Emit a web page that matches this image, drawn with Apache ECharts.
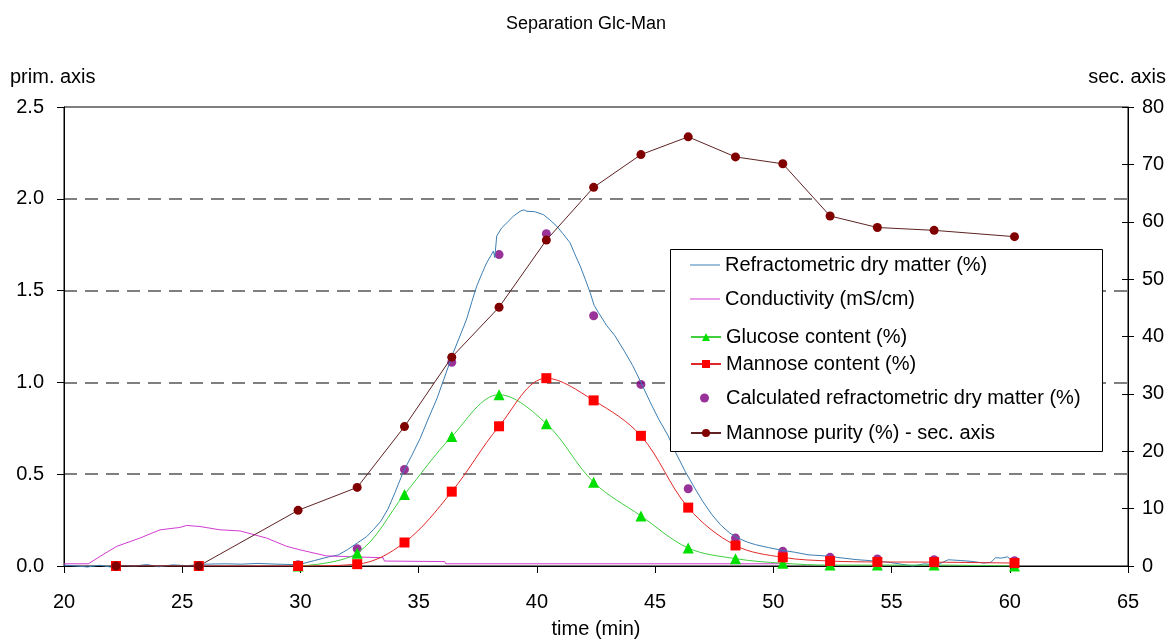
<!DOCTYPE html>
<html>
<head>
<meta charset="utf-8">
<script src="https://cdn.jsdelivr.net/npm/echarts@6/dist/echarts.min.js"></script>
<style>
  html, body { margin: 0; padding: 0; background: #fff; }
  #main { width: 1172px; height: 644px; }
</style>
</head>
<body>
<div id="main"></div>
<script>
// sampling times (min) of the lab analyses
const sampleTimes = [22.2, 25.7, 29.9, 32.4, 34.4, 36.4, 38.4, 40.4, 42.4, 44.4, 46.4, 48.4, 50.4, 52.4, 54.4, 56.8, 60.2];
const glucose     = [null, null, 0, 0.07, 0.39, 0.705, 0.933, 0.775, 0.456, 0.273, 0.098, 0.04, 0.015, 0.005, 0.005, 0.005, 0];
const mannose     = [0, 0, 0, 0.01, 0.128, 0.405, 0.761, 1.023, 0.902, 0.709, 0.318, 0.112, 0.047, 0.027, 0.022, 0.021, 0.016];
const calcRdm     = [null, null, 0.007, 0.094, 0.526, 1.11, 1.696, 1.81, 1.363, 0.989, 0.421, 0.152, 0.08, 0.047, 0.038, 0.034, 0.029];
const purity      = [0, 0, 9.7, 13.7, 24.3, 36.4, 45.1, 56.8, 66.0, 71.7, 74.8, 71.3, 70.1, 61.0, 59.0, 58.5, 57.4];

// online refractometer trace
const rdmTime = [20, 21, 21.5, 22, 22.5, 23, 23.5, 24, 24.6, 25.2, 26, 26.8, 27.5, 28.2, 29, 29.6, 30, 30.6, 31.2, 31.6,
  32.0, 32.4, 32.8, 33.1, 33.4, 33.7, 34.0, 34.35, 34.7, 35.06, 35.4, 35.77, 36.1, 36.47, 36.8, 37.03, 37.25, 37.46, 37.7, 37.88,
  38.05, 38.16, 38.22, 38.3, 38.5, 38.73, 39.0, 39.29, 39.45, 39.57, 39.9, 40.27, 40.55, 40.84, 41.1, 41.4, 41.6, 41.83, 42.05, 42.25,
  42.42, 42.6, 42.95, 43.3, 43.7, 44.05, 44.4, 44.79, 45.15, 45.54, 45.9, 46.28, 46.65, 47.02, 47.4, 47.77, 48.15, 48.51, 48.9, 49.25,
  49.8, 50.4, 50.9, 51.47, 52.2, 52.95, 53.5, 54.0, 54.43, 54.9, 55.4, 55.9, 56.4, 56.9, 57.4, 57.9, 58.4, 58.9, 59.2, 59.4,
  59.65, 59.9, 60.1, 60.38];
const rdmValues = [0.005, -0.005, 0.004, -0.006, 0.003, 0.0, 0.008, -0.004, 0.006, 0.002, 0.01, 0.012, 0.01, 0.014, 0.01, 0.008, 0.01, 0.03, 0.05, 0.06,
  0.09, 0.125, 0.16, 0.2, 0.244, 0.31, 0.4, 0.513, 0.6, 0.694, 0.8, 0.911, 1.03, 1.164, 1.27, 1.345, 1.44, 1.526, 1.6, 1.652,
  1.69, 1.715, 1.68, 1.797, 1.84, 1.869, 1.905, 1.932, 1.94, 1.932, 1.93, 1.914, 1.885, 1.851, 1.81, 1.761, 1.7, 1.634, 1.56, 1.49,
  1.42, 1.381, 1.31, 1.254, 1.17, 1.092, 1.0, 0.893, 0.8, 0.712, 0.61, 0.513, 0.43, 0.351, 0.28, 0.224, 0.18, 0.152, 0.13, 0.116,
  0.1, 0.085, 0.075, 0.061, 0.055, 0.043, 0.035, 0.03, 0.025, 0.02, 0.01, 0.0, 0.012, 0.005, 0.034, 0.03, 0.025, 0.016, 0.02, 0.045,
  0.043, 0.05, 0.03, 0.04];

// conductivity trace
const condTime   = [20, 21.03, 21.52, 22.23, 23.21, 24.06, 24.9, 25.19, 25.75, 26.6, 27.45, 28.57, 29.42, 29.98, 31.1, 32.3, 33.5, 33.55, 36.1, 36.15, 50.7];
const condValues = [0.012, 0.012, 0.052, 0.107, 0.152, 0.197, 0.21, 0.221, 0.215, 0.197, 0.191, 0.152, 0.107, 0.088, 0.055, 0.05, 0.045, 0.027, 0.024, 0.012, 0.012];

const xTicks = { min: 20, max: 65, interval: 5 };
const primTicks = { min: 0, max: 2.5, interval: 0.5 };
const secTicks = { min: 0, max: 80, interval: 10 };

const names = [
  'Refractometric dry matter (%)',
  'Conductivity (mS/cm)',
  'Glucose content (%)',
  'Mannose content (%)',
  'Calculated refractometric dry matter (%)',
  'Mannose purity (%) - sec. axis'
];
const legendRows = [265, 299, 337, 364, 398, 433];

const pairs = (xs, ys) => xs.map((x, i) => [x, ys[i]]).filter(p => p[1] !== null);

const font = 'Liberation Sans, Arial, sans-serif';
const txt = { color: '#000', fontFamily: font, fontSize: 20 };

// one legend per row, the Excel legend rows are not evenly spaced
const legends = names.map((n, i) => {
  const lg = {
    data: [n],
    left: 690,
    top: legendRows[i] - 10,
    padding: 0,
    itemWidth: 30,
    itemHeight: 10,
    itemGap: 0,
    z: 6,
    selectedMode: false,
    textStyle: { color: '#000', fontFamily: font, fontSize: 20 }
  };
  if (i < 2) {
    // plain line, no marker
    lg.data = [{ name: n, icon: 'rect' }];
    lg.itemHeight = 1;
    lg.top = legendRows[i] - 10;
  }
  if (i === 4) {
    lg.data = [{ name: n, icon: 'circle' }];
    lg.left = 700;
    lg.itemWidth = 9;
    lg.itemHeight = 9;
    lg.textStyle = Object.assign({}, lg.textStyle, { padding: [0, 0, 0, 12] });
  }
  return lg;
});

const chart = echarts.init(document.getElementById('main'));
chart.setOption({
  animation: false,
  backgroundColor: '#fff',
  title: {
    text: 'Separation Glc-Man',
    left: 'center',
    top: 10,
    textStyle: { color: '#000', fontFamily: font, fontSize: 18, fontWeight: 'normal' }
  },
  grid: { left: 64, right: 44, top: 107, bottom: 76, show: true, borderColor: '#000', borderWidth: 1 },
  graphic: [
    { type: 'text', left: 10, top: 67, style: { text: 'prim. axis', fill: '#000', font: '20px ' + font } },
    { type: 'text', right: 6, top: 67, style: { text: 'sec. axis', fill: '#000', font: '20px ' + font } },
    { type: 'rect', left: 670, top: 249, z: 5,
      shape: { width: 432, height: 202 },
      style: { fill: '#fff', stroke: '#000', lineWidth: 1 } }
  ],
  legend: legends,
  xAxis: {
    type: 'value',
    min: xTicks.min, max: xTicks.max, interval: xTicks.interval,
    name: 'time (min)',
    nameLocation: 'middle',
    nameGap: 53,
    nameTextStyle: txt,
    axisLine: { lineStyle: { color: '#000', width: 1 } },
    axisTick: { length: 7, lineStyle: { color: '#000' } },
    axisLabel: Object.assign({ margin: 26 }, txt),
    splitLine: { show: false }
  },
  yAxis: [
    {
      type: 'value',
      min: primTicks.min, max: primTicks.max, interval: primTicks.interval,
      axisLine: { show: true, lineStyle: { color: '#000', width: 1 } },
      axisTick: { show: true, length: 7, lineStyle: { color: '#000' } },
      axisLabel: Object.assign({ margin: 20, formatter: v => v.toFixed(1) }, txt),
      splitLine: { show: true, showMinLine: false, showMaxLine: false,
        lineStyle: { color: '#555', width: 1.5, type: [13, 8] } }
    },
    {
      type: 'value',
      position: 'right',
      min: secTicks.min, max: secTicks.max, interval: secTicks.interval,
      axisLine: { show: true, lineStyle: { color: '#000', width: 1 } },
      axisTick: { show: true, length: 6, lineStyle: { color: '#000' } },
      axisLabel: Object.assign({ margin: 14 }, txt),
      splitLine: { show: false }
    },
    {
      type: 'value',
      position: 'right',
      min: secTicks.min, max: secTicks.max, interval: secTicks.interval,
      axisLine: { show: false },
      axisTick: { show: true, inside: true, length: 6, lineStyle: { color: '#000' } },
      axisLabel: { show: false },
      splitLine: { show: false }
    }
  ],
  series: [
    {
      name: names[0], type: 'line', yAxisIndex: 0, clip: false,
      data: pairs(rdmTime, rdmValues),
      symbol: 'none', showSymbol: false,
      lineStyle: { color: '#3b7eb3', width: 1 },
      itemStyle: { color: '#3b7eb3' }
    },
    {
      name: names[1], type: 'line', yAxisIndex: 0,
      data: pairs(condTime, condValues),
      symbol: 'none', showSymbol: false,
      lineStyle: { color: '#d23cd2', width: 1 },
      itemStyle: { color: '#d23cd2' }
    },
    {
      name: names[2], type: 'line', yAxisIndex: 0, smooth: 0.35,
      data: pairs(sampleTimes, glucose),
      symbol: 'triangle', symbolSize: 11,
      lineStyle: { color: '#3fcf3f', width: 1 },
      itemStyle: { color: '#00e000' }
    },
    {
      name: names[3], type: 'line', yAxisIndex: 0, smooth: 0.35,
      data: pairs(sampleTimes, mannose),
      symbol: 'rect', symbolSize: 10,
      lineStyle: { color: '#e02828', width: 1 },
      itemStyle: { color: '#ff0000' }
    },
    {
      name: names[4], type: 'scatter', yAxisIndex: 0,
      data: pairs(sampleTimes, calcRdm),
      symbol: 'circle', symbolSize: 9,
      itemStyle: { color: '#800080' }
    },
    {
      name: names[5], type: 'line', yAxisIndex: 1,
      data: pairs(sampleTimes, purity),
      symbol: 'circle', symbolSize: 9,
      lineStyle: { color: '#5e2222', width: 1 },
      itemStyle: { color: '#800000' }
    }
  ]
});
</script>
</body>
</html>
